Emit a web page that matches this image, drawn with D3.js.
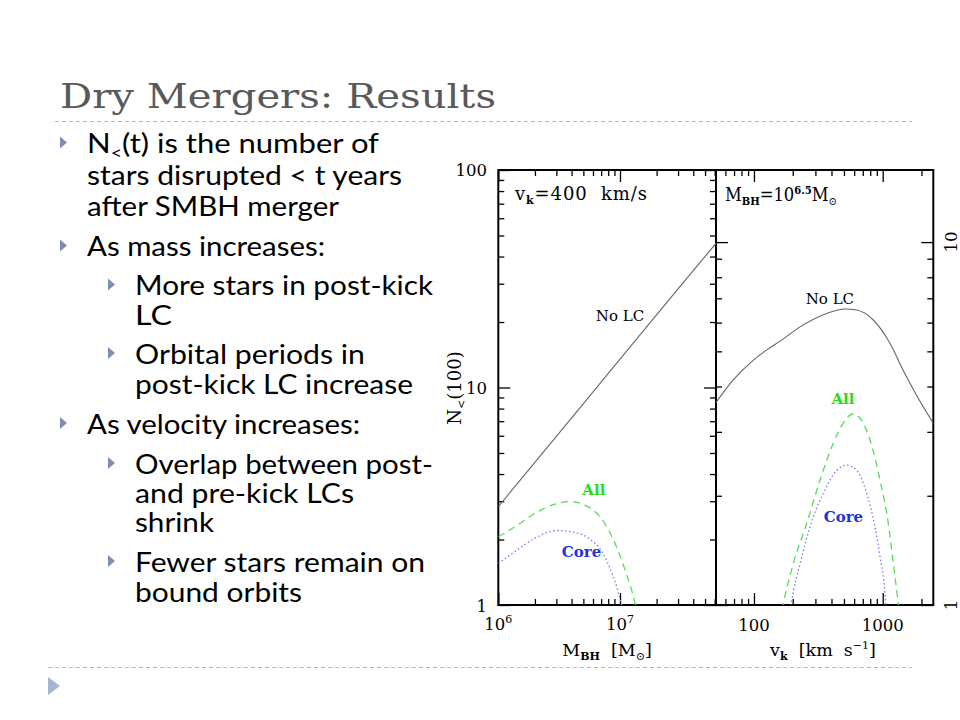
<!DOCTYPE html>
<html><head><meta charset="utf-8">
<script src="https://cdn.jsdelivr.net/npm/d3@7"></script>
<style>html,body{margin:0;padding:0;background:#fff;} svg{display:block;}</style>
</head><body><svg id="c" width="960" height="720"></svg>
<script>
// ---------- DATA ----------
// Left panel: v_k = 400 km/s, x = M_BH [Msun]
const massNoLC = [1e6, 3e6, 1e7, 3e7, 6.15e7];
const nNoLCMass = [2.83, 5.96, 13.5, 28.4, 46];
const massAll = [1e6, 1.37e6, 2.0e6, 2.93e6, 4.0e6, 5.15e6, 6.23e6, 7.5e6, 9.1e6, 1.1e7, 1.33e7, 1.37e7];
const nAllMass = [2.06, 2.29, 2.64, 2.91, 2.99, 2.88, 2.69, 2.37, 1.92, 1.45, 1.02, 0.95];
const massCore = [1e6, 1.37e6, 2.0e6, 3.1e6, 4.0e6, 5.5e6, 7.1e6, 8.3e6, 9.4e6, 1.02e7, 1.05e7];
const nCoreMass = [1.555, 1.76, 2.03, 2.20, 2.17, 2.03, 1.76, 1.47, 1.21, 1.02, 0.95];
// Right panel: M_BH = 10^6.5 Msun, x = v_k [km/s]
const vNoLC = [50, 69, 99, 125, 164, 228, 367, 509, 628, 845, 1074, 1208, 1361, 1836, 2500];
const nNoLCVel = [3.59, 4.17, 4.73, 5.04, 5.37, 5.84, 6.36, 6.54, 6.50, 6.10, 5.45, 5.06, 4.62, 3.78, 3.15];
const vAll = [165, 169, 202, 257, 326, 413, 494, 585, 667, 797, 953, 1105, 1209, 1322, 1340];
const nAllVel = [0.97, 1.01, 1.30, 1.68, 2.21, 2.79, 3.17, 3.36, 3.27, 2.85, 2.21, 1.68, 1.30, 1.01, 0.97];
const vCore = [192, 196, 228, 272, 345, 440, 525, 628, 751, 871, 953, 1042, 1065];
const nCoreVel = [0.97, 1.02, 1.30, 1.64, 2.03, 2.35, 2.43, 2.35, 2.03, 1.64, 1.36, 1.077, 0.97];

// tick values
const massMajor = [1e6, 1e7];
const massMinor = [2e6,3e6,4e6,5e6,6e6,7e6,8e6,9e6,2e7,3e7,4e7,5e7,6e7];
const velMajor = [100, 1000];
const velMinor = [60,70,80,90,200,300,400,500,600,700,800,900,2000];
const nMajorL = [1, 10, 100];
const nMinorL = [2,3,4,5,6,7,8,9,20,30,40,50,60,70,80,90];
const nMajorR = [1, 10];
const nMinorR = [2,3,4,5,6,7,8,9];
const massTickLabels = [["10","6"],["10","7"]];
const velTickLabels = ["100","1000"];
const nTickLabelsL = ["1","10","100"];
const nTickLabelsR = ["1","10"];

// slide text
const titleText = "Dry Mergers: Results";
const bulletLines = [
  {lvl:1, bullet:true,  parts:[["N"],["<","sub"],["(t) is the number of"]], base:153, w:292},
  {lvl:1, bullet:false, parts:[["stars disrupted < t years"]], base:185, w:315},
  {lvl:1, bullet:false, parts:[["after SMBH merger"]], base:215.5, w:252},
  {lvl:1, bullet:true,  parts:[["As mass increases:"]], base:256, w:238},
  {lvl:2, bullet:true,  parts:[["More stars in post-kick"]], base:295, w:298},
  {lvl:2, bullet:false, parts:[["LC"]], base:325, w:37},
  {lvl:2, bullet:true,  parts:[["Orbital periods in"]], base:363.5, w:230},
  {lvl:2, bullet:false, parts:[["post-kick LC increase"]], base:393.5, w:278},
  {lvl:1, bullet:true,  parts:[["As velocity increases:"]], base:433.5, w:273},
  {lvl:2, bullet:true,  parts:[["Overlap between post-"]], base:473.5, w:298},
  {lvl:2, bullet:false, parts:[["and pre-kick LCs"]], base:502.5, w:219},
  {lvl:2, bullet:false, parts:[["shrink"]], base:532, w:79},
  {lvl:2, bullet:true,  parts:[["Fewer stars remain on"]], base:571.5, w:290},
  {lvl:2, bullet:false, parts:[["bound orbits"]], base:601.5, w:167}
];

// annotations (data coordinates)
const annLeft = [
  {t:"No LC", x:1e7, y:20.2, c:"#000", a:"middle"},
  {t:"All", x:6.1e6, y:3.2, c:"#22dd22", a:"middle"},
  {t:"Core", x:4.83e6, y:1.66, c:"#2233dd", a:"middle"}
];
const annRight = [
  {t:"No LC", x:389, y:6.75, c:"#000", a:"middle"},
  {t:"All", x:491, y:3.58, c:"#22dd22", a:"middle"},
  {t:"Core", x:495, y:1.69, c:"#2233dd", a:"middle"}
];

// ---------- DRAW ----------
const svg = d3.select("#c");
svg.append("rect").attr("width",960).attr("height",720).attr("fill","#fff");

const SERIF = "'DejaVu Serif', serif";
const BODY = "Lato, 'Open Sans', sans-serif";

// title
svg.append("text").attr("x",60).attr("y",108).attr("font-family",SERIF).attr("font-size",33)
  .attr("fill","#595959").attr("textLength",436).attr("lengthAdjust","spacingAndGlyphs").text(titleText);

// dashed separators
svg.append("line").attr("x1",55).attr("x2",912).attr("y1",121.5).attr("y2",121.5)
  .attr("stroke","#a9bccf").attr("stroke-width",1).attr("stroke-dasharray","4,3");
svg.append("line").attr("x1",48).attr("x2",912).attr("y1",667.5).attr("y2",667.5)
  .attr("stroke","#a9bccf").attr("stroke-width",1).attr("stroke-dasharray","4,3");
svg.append("path").attr("d","M48,677L60,686L48,695Z").attr("fill","#a3b5d0");

// bullets
bulletLines.forEach(b => {
  const tx = b.lvl === 1 ? 87 : 135;
  const bx = b.lvl === 1 ? 60 : 108;
  if (b.bullet) {
    const cy = b.base - 10.5;
    svg.append("path").attr("d",`M${bx},${cy-6}L${bx+7},${cy}L${bx},${cy+6}Z`).attr("fill","#7f8db0");
  }
  const t = svg.append("text").attr("x",tx).attr("y",b.base).attr("font-family",BODY)
    .attr("font-size",27).attr("fill","#000").attr("textLength",b.w).attr("lengthAdjust","spacingAndGlyphs");
  b.parts.forEach((p,i) => {
    const s = t.append("tspan").text(p[0]);
    if (p[1] === "sub") s.attr("font-size",17).attr("dy",6);
    else if (i>0 && b.parts[i-1][1]==="sub") s.attr("dy",-6);
  });
});

// ---------- CHART ----------
const yTop = 170, yBot = 605;
const xL = d3.scaleLog().domain([1e6, 6.15e7]).range([498.3, 716]);
const yL = d3.scaleLog().domain([1, 100]).range([yBot, yTop]);
const xR = d3.scaleLog().domain([50.7, 2472]).range([716, 933.3]);
const yR = d3.scaleLog().domain([1, 15.8]).range([yBot, yTop]);

const defs = svg.append("defs");
defs.append("clipPath").attr("id","clipL").append("rect")
  .attr("x",xL.range()[0]).attr("y",yTop).attr("width",xL.range()[1]-xL.range()[0]).attr("height",yBot-yTop);
defs.append("clipPath").attr("id","clipR").append("rect")
  .attr("x",xR.range()[0]).attr("y",yTop).attr("width",xR.range()[1]-xR.range()[0]).attr("height",yBot-yTop);

function ticks(g, axisFn, scale, vals, len, transform){
  const a = g.append("g").attr("transform",transform)
    .call(axisFn(scale).tickValues(vals).tickSizeInner(-len).tickSizeOuter(0).tickFormat(""));
  a.select(".domain").remove();
  a.selectAll(".tick line").attr("stroke","#000").attr("stroke-width",1.3);
  a.selectAll(".tick text").remove();
}
function panel(x, y, xMaj, xMin, yMaj, yMin){
  const g = svg.append("g");
  const [x0,x1] = x.range();
  ticks(g, d3.axisBottom, x, xMaj, 12, `translate(0,${yBot})`);
  ticks(g, d3.axisBottom, x, xMin, 6, `translate(0,${yBot})`);
  ticks(g, d3.axisTop, x, xMaj, 12, `translate(0,${yTop})`);
  ticks(g, d3.axisTop, x, xMin, 6, `translate(0,${yTop})`);
  ticks(g, d3.axisLeft, y, yMaj, 12, `translate(${x0},0)`);
  ticks(g, d3.axisLeft, y, yMin, 6, `translate(${x0},0)`);
  ticks(g, d3.axisRight, y, yMaj, 12, `translate(${x1},0)`);
  ticks(g, d3.axisRight, y, yMin, 6, `translate(${x1},0)`);
  g.append("rect").attr("x",x0).attr("y",yTop).attr("width",x1-x0).attr("height",yBot-yTop)
    .attr("fill","none").attr("stroke","#000").attr("stroke-width",2);
  return g;
}
const gL = panel(xL, yL, massMajor, massMinor, nMajorL, nMinorL);
const gR = panel(xR, yR, velMajor, velMinor, nMajorR, nMinorR);

function series(clip, x, y, xs, ys, color, dash, width){
  const line = d3.line().x(d=>x(d[0])).y(d=>y(d[1])).curve(d3.curveMonotoneX);
  svg.append("path").attr("clip-path",`url(#${clip})`).datum(xs.map((v,i)=>[v,ys[i]]))
    .attr("d",line).attr("fill","none").attr("stroke",color).attr("stroke-width",width)
    .attr("stroke-dasharray",dash);
}
series("clipL", xL, yL, massNoLC, nNoLCMass, "#666", null, 1.1);
series("clipL", xL, yL, massAll, nAllMass, "#55dd55", "7,5", 1.3);
series("clipL", xL, yL, massCore, nCoreMass, "#7a7aee", "1.5,2.5", 1.3);
series("clipR", xR, yR, vNoLC, nNoLCVel, "#666", null, 1.1);
series("clipR", xR, yR, vAll, nAllVel, "#55dd55", "7,5", 1.3);
series("clipR", xR, yR, vCore, nCoreVel, "#7a7aee", "1.5,2.5", 1.3);

// annotations
function ann(list, x, y){
  list.forEach(a => svg.append("text").attr("x",x(a.x)).attr("y",y(a.y)).attr("text-anchor",a.a)
    .attr("font-family",SERIF).attr("font-size",15).attr("fill",a.c)
    .attr("font-weight", a.c==="#000" ? "normal" : "bold").text(a.t));
}
ann(annLeft, xL, yL);
ann(annRight, xR, yR);

// panel headers
{
  const t = svg.append("text").attr("x",xL(1.37e6)).attr("y",yL(72.8)).attr("font-family",SERIF).attr("font-size",18)
    .attr("textLength",132).attr("lengthAdjust","spacing");
  t.append("tspan").text("v");
  t.append("tspan").text("k").attr("font-size",11).attr("font-weight","bold").attr("dy",4);
  t.append("tspan").text("=400\u00a0\u00a0km/s").attr("dy",-4);
}
{
  const t = svg.append("text").attr("x",xR(59.5)).attr("y",yR(12.97)).attr("font-family",SERIF).attr("font-size",18)
    .attr("textLength",112).attr("lengthAdjust","spacingAndGlyphs");
  t.append("tspan").text("M");
  t.append("tspan").text("BH").attr("font-size",11).attr("font-weight","bold").attr("dy",4);
  t.append("tspan").text("=10").attr("dy",-4);
  t.append("tspan").text("6.5").attr("font-size",11).attr("font-weight","bold").attr("dy",-7);
  t.append("tspan").text("M").attr("dy",7);
  t.append("tspan").text("\u2299").attr("font-size",11).attr("dy",4);
}

// tick labels
massMajor.forEach((m,i) => {
  const t = svg.append("text").attr("x",xL(m)).attr("y",630).attr("text-anchor","middle")
    .attr("font-family",SERIF).attr("font-size",16.5);
  t.append("tspan").text(massTickLabels[i][0]);
  t.append("tspan").text(massTickLabels[i][1]).attr("font-size",11).attr("dy",-7);
});
velMajor.forEach((v,i) => {
  svg.append("text").attr("x",xR(v)).attr("y",631).attr("text-anchor","middle")
    .attr("font-family",SERIF).attr("font-size",16.5).text(velTickLabels[i]);
});
nMajorL.forEach((n,i) => {
  svg.append("text").attr("x",487).attr("y",yL(n)+ (i===0?7:6)).attr("text-anchor","end")
    .attr("font-family",SERIF).attr("font-size",16.5).text(nTickLabelsL[i]);
});
nMajorR.forEach((n,i) => {
  svg.append("text").attr("transform",`translate(957,${yR(n)}) rotate(-90)`).attr("text-anchor","middle")
    .attr("font-family",SERIF).attr("font-size",16.5).text(nTickLabelsR[i]);
});

// axis titles
{
  const t = svg.append("text").attr("x",607).attr("y",656).attr("text-anchor","middle")
    .attr("font-family",SERIF).attr("font-size",17.5);
  t.append("tspan").text("M");
  t.append("tspan").text("BH").attr("font-size",11).attr("font-weight","bold").attr("dy",4);
  t.append("tspan").text("\u00a0\u00a0[M").attr("dy",-4);
  t.append("tspan").text("\u2299").attr("font-size",11).attr("dy",4);
  t.append("tspan").text("]").attr("dy",-4);
}
{
  const t = svg.append("text").attr("x",823).attr("y",656).attr("text-anchor","middle")
    .attr("font-family",SERIF).attr("font-size",17.5);
  t.append("tspan").text("v");
  t.append("tspan").text("k").attr("font-size",11).attr("font-weight","bold").attr("dy",4);
  t.append("tspan").text("\u00a0\u00a0[km\u00a0\u00a0s").attr("dy",-4);
  t.append("tspan").text("\u22121").attr("font-size",11).attr("dy",-7);
  t.append("tspan").text("]").attr("dy",7);
}
{
  const t = svg.append("text").attr("transform","translate(461,388) rotate(-90)").attr("text-anchor","middle")
    .attr("font-family",SERIF).attr("font-size",18);
  t.append("tspan").text("N");
  t.append("tspan").text("<").attr("font-size",11).attr("dy",4);
  t.append("tspan").text("(100)").attr("dy",-4);
}
</script></body></html>
